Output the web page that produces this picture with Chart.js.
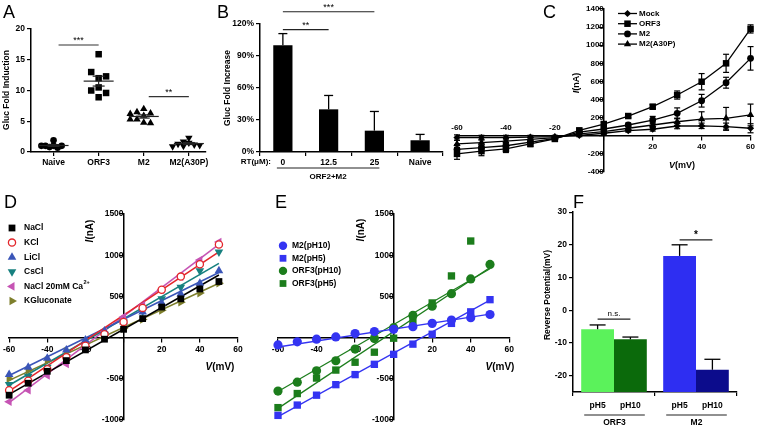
<!DOCTYPE html>
<html><head><meta charset="utf-8">
<script src="https://cdn.jsdelivr.net/npm/chart.js@4/dist/chart.umd.min.js"></script>
<style>
html,body{margin:0;padding:0;background:#fff}
#wrap{position:relative;width:757px;height:427px;overflow:hidden;background:#fff}
canvas{position:absolute}
.pl{position:absolute;font-family:"Liberation Sans",Arial,sans-serif;font-size:18px;line-height:18px;color:#000}
</style></head><body>
<div id="wrap">
<canvas id="cA" width="232" height="200" style="left:0;top:0"></canvas>
<canvas id="cB" width="245" height="200" style="left:215px;top:0"></canvas>
<canvas id="cC" width="317" height="200" style="left:440px;top:0"></canvas>
<canvas id="cD" width="250" height="222" style="left:0;top:205px"></canvas>
<canvas id="cE" width="262" height="222" style="left:255px;top:205px"></canvas>
<canvas id="cF" width="247" height="222" style="left:510px;top:205px"></canvas>
<div class="pl" style="left:3px;top:3px">A</div>
<div class="pl" style="left:217px;top:3px">B</div>
<div class="pl" style="left:543px;top:3px">C</div>
<div class="pl" style="left:4px;top:193px">D</div>
<div class="pl" style="left:275px;top:193px">E</div>
<div class="pl" style="left:573px;top:193px">F</div>
</div>
<script>
// ================= DATA =================
// Panel A : Gluc fold induction (individual wells)
const aCategories = ['Naive', 'ORF3', 'M2', 'M2(A30P)'];
const aNaive = [1.0, 0.8, 1.9, 0.7, 1.0, 1.0, 1.0];
const aOrf3  = [15.9, 12.0, 10.5, 8.9, 13.0, 10.0, 12.3, 9.6];
const aM2    = [5.9, 7.0, 6.5, 5.3, 6.3, 4.8, 4.7, 5.3, 6.2];
const aA30P  = [2.3, 1.7, 1.5, 1.2, 1.0, 1.3, 1.1, 0.9];

// Panel B : Gluc fold increase
const bLabels = ['0', '12.5', '25', 'Naive'];
const bValues = [100, 40, 20, 11];
const bErrors = [11, 13, 18, 5.5];

// Panel C : I-V curves
const cVoltage = [-60, -50, -40, -30, -20, -10, 0, 10, 20, 30, 40, 50, 60];
const cMock  = [-20, -20, -20, -15, -10, 5, 28, 56, 72, 108, 110, 100, 83];
const cOrf3  = [-200, -170, -145, -90, -35, 60, 130, 218, 321, 450, 597, 800, 1180];
const cM2    = [-150, -130, -110, -70, -30, 40, 75, 119, 174, 248, 387, 586, 855];
const cA30P  = [-90, -75, -60, -40, -20, 20, 45, 83, 119, 155, 185, 193, 230];
const cMockErr = [30, 25, 25, 20, 15, 15, 15, 15, 20, 30, 30, 40, 50];
const cOrf3Err = [60, 50, 40, 30, 20, 20, 20, 20, 25, 45, 90, 100, 45];
const cM2Err   = [50, 40, 35, 30, 20, 20, 20, 20, 40, 60, 70, 60, 130];
const cA30PErr = [40, 30, 30, 20, 20, 20, 20, 20, 30, 40, 80, 120, 120];
const cNames = ['Mock', 'ORF3', 'M2', 'M2(A30P)'];

// Panel D : ion substitution
const dVoltage = [-60, -50, -40, -30, -20, -10, 0, 10, 20, 30, 40, 50];
const dNaCl   = [-700, -555, -410, -280, -150, -20, 100, 230, 370, 470, 590, 680];
const dKCl    = [-640, -525, -385, -240, -100, 40, 190, 360, 580, 740, 890, 1130];
const dLiCl   = [-450, -360, -250, -150, -30, 80, 190, 310, 420, 530, 660, 810];
const dCsCl   = [-570, -470, -360, -230, -100, 40, 190, 320, 470, 610, 810, 1040];
const dNaClCa = [-780, -640, -460, -320, -90, 70, 250, 390, 580, 740, 940, 1160];
const dKGluc  = [-500, -400, -280, -170, -70, 30, 110, 220, 330, 430, 540, 660];
const dFitVoltage = [-60, 50];
const dNaClFit   = [-690, 760];
const dKClFit    = [-650, 1040];
const dLiClFit   = [-460, 790];
const dCsClFit   = [-580, 900];
const dNaClCaFit = [-790, 1130];
const dKGlucFit  = [-520, 660];
const dNames = ['NaCl', 'KCl', 'LiCl', 'CsCl', 'NaCl 20mM Ca', 'KGluconate'];

// Panel E : pH dependence
const eVoltage = [-60, -50, -40, -30, -20, -10, 0, 10, 20, 30, 40, 50];
const eM2pH10   = [-90, -52, -20, 7, 48, 72, 100, 132, 172, 212, 240, 280];
const eM2pH5    = [-945, -820, -700, -572, -450, -325, -204, -80, 40, 172, 312, 460];
const eOrf3pH10 = [-650, -542, -404, -282, -140, -12, 120, 268, 380, 532, 712, 888];
const eOrf3pH5  = [-851, -680, -492, -395, -300, -178, -8, 200, 420, 748, 1172, null];
const eFitVoltage = [-60, 50];
const eM2pH10Fit   = [-115, 285];
const eM2pH5Fit    = [-960, 455];
const eOrf3pH10Fit = [-655, 835];
const eOrf3pH5Fit  = [-860, 850];
const eNames = ['M2(pH10)', 'M2(pH5)', 'ORF3(pH10)', 'ORF3(pH5)'];

// Panel F : reversal potential
const fGroups = ['ORF3', 'M2'];
const fConditions = ['pH5', 'pH10'];
const fPH5     = [-5.8, 16.6];
const fPH5Err  = [1.3, 3.4];
const fPH10    = [-8.9, -18.2];
const fPH10Err = [0.7, 3.2];
const fYTicks  = [-20, -10, 0, 10, 20, 30];

// ================= HELPERS =================
const FF = '"Liberation Sans", Arial, Helvetica, sans-serif';
Chart.defaults.font.family = FF;
Chart.defaults.font.size = 8.5;
Chart.defaults.font.weight = 'bold';
Chart.defaults.color = '#000';
Chart.defaults.animation = false;
Chart.defaults.responsive = false;
Chart.defaults.devicePixelRatio = 1;
Chart.defaults.plugins.legend.display = false;
Chart.defaults.plugins.tooltip.enabled = false;

function ax(o) {
  const g = Object.assign({display: true, drawOnChartArea: false, drawTicks: true, tickLength: 4, color: '#000', lineWidth: 1.2}, o.grid || {});
  const t = Object.assign({color: '#000', font: {size: 8.5, weight: 'bold', family: FF}, padding: 2, maxRotation: 0, minRotation: 0, autoSkip: false}, o.ticks || {});
  const b = Object.assign({display: true, color: '#000', width: 1.5}, o.border || {});
  return Object.assign({}, o, {grid: g, ticks: t, border: b});
}
function fstr(o, size) { return (o.italic ? 'italic ' : '') + (o.bold === false ? '' : 'bold ') + size + 'px ' + FF; }
function T(ctx, s, x, y, o) {
  o = o || {};
  ctx.save();
  ctx.font = fstr(o, o.size || 8.5);
  ctx.fillStyle = o.color || '#000';
  ctx.textAlign = o.align || 'center';
  ctx.textBaseline = o.baseline || 'middle';
  ctx.translate(x, y);
  if (o.rot) ctx.rotate(o.rot);
  ctx.fillText(s, 0, 0);
  ctx.restore();
}
function mixed(ctx, parts, cx, cy, rot, size) {
  ctx.save(); ctx.translate(cx, cy); if (rot) ctx.rotate(rot);
  let total = 0;
  parts.forEach(p => { ctx.font = fstr(p, p.size || size); p.w = ctx.measureText(p.t).width; total += p.w; });
  let x = -total / 2;
  ctx.textAlign = 'left'; ctx.textBaseline = 'middle'; ctx.fillStyle = '#000';
  parts.forEach(p => { ctx.font = fstr(p, p.size || size); ctx.fillText(p.t, x, p.dy || 0); x += p.w; });
  ctx.restore();
}
function line(ctx, x1, y1, x2, y2, w, c) {
  ctx.save(); ctx.beginPath(); ctx.moveTo(x1, y1); ctx.lineTo(x2, y2);
  ctx.lineWidth = w || 1.2; ctx.strokeStyle = c || '#000'; ctx.stroke(); ctx.restore();
}
function marker(ctx, style, r, rot, x, y, fill, stroke, bw) {
  ctx.save(); ctx.fillStyle = fill; ctx.strokeStyle = stroke || fill; ctx.lineWidth = bw || 0;
  ctx.beginPath();
  const rad = (rot || 0) * Math.PI / 180;
  if (style === 'circle') ctx.arc(x, y, r, 0, Math.PI * 2);
  else if (style === 'rect') { const s = r * Math.SQRT1_2; ctx.rect(x - s, y - s, 2 * s, 2 * s); }
  else if (style === 'rectRot') { ctx.moveTo(x, y - r); ctx.lineTo(x + r, y); ctx.lineTo(x, y + r); ctx.lineTo(x - r, y); ctx.closePath(); }
  else if (style === 'triangle') {
    let a = rad;
    ctx.moveTo(x + Math.sin(a) * r, y - Math.cos(a) * r);
    a += 2 * Math.PI / 3; ctx.lineTo(x + Math.sin(a) * r, y - Math.cos(a) * r);
    a += 2 * Math.PI / 3; ctx.lineTo(x + Math.sin(a) * r, y - Math.cos(a) * r);
    ctx.closePath();
  }
  ctx.fill(); if (bw) ctx.stroke();
  ctx.restore();
}
function swarm(vals, step, gap) {
  const placed = [];
  return vals.map(v => {
    for (let k = 0; k < 30; k++) {
      const col = k === 0 ? 0 : (k % 2 ? -Math.ceil(k / 2) : Math.ceil(k / 2));
      if (placed.every(p => p.col !== col || Math.abs(p.v - v) >= gap)) { placed.push({col, v}); return col * step; }
    }
    return 0;
  });
}
function pts(xs, ys) { return xs.map((x, i) => ({x, y: ys[i]})).filter(p => p.y !== null); }

// ================= PANEL A =================
(function () {
  const groups = [aNaive, aOrf3, aM2, aA30P];
  const shapes = [{s: 'circle', r: 3.3, rot: 0}, {s: 'rect', r: 4.6, rot: 0}, {s: 'triangle', r: 4.3, rot: 0}, {s: 'triangle', r: 4.3, rot: 180}];
  const steps = [0.09, 0.165, 0.15, 0.12];
  const gaps = [0.6, 1.2, 0.9, 0.7];
  new Chart(document.getElementById('cA'), {
    type: 'scatter',
    data: {datasets: groups.map((vals, gi) => {
      const off = swarm(vals, steps[gi], gaps[gi]);
      return {data: vals.map((v, i) => ({x: gi + 1 + off[i], y: v})), pointStyle: shapes[gi].s, pointRotation: shapes[gi].rot,
        pointRadius: shapes[gi].r, backgroundColor: '#000', borderColor: '#000', borderWidth: 0, clip: false};
    })},
    options: {
      layout: {padding: {left: 0, top: 29, right: 26, bottom: 0}},
      scales: {
        x: ax({type: 'linear', min: 0.5, max: 4.38,
          afterBuildTicks: s => { s.ticks = aCategories.map((c, i) => ({value: i + 1})); },
          ticks: {callback: v => aCategories[Math.round(v) - 1]},
          afterFit: s => { s.height = 48; }}),
        y: ax({min: 0, max: 20, ticks: {stepSize: 5}, afterFit: s => { s.width = 31; }})
      }
    },
    plugins: [{id: 'aov', afterDatasetsDraw(chart) {
      const ctx = chart.ctx, xs = chart.scales.x, ys = chart.scales.y;
      groups.forEach((vals, gi) => {
        const n = vals.length, m = vals.reduce((a, b) => a + b, 0) / n;
        const sd = Math.sqrt(vals.reduce((a, b) => a + (b - m) * (b - m), 0) / (n - 1)), sem = sd / Math.sqrt(n);
        const cx = xs.getPixelForValue(gi + 1);
        line(ctx, cx - 15, ys.getPixelForValue(m), cx + 15, ys.getPixelForValue(m), 1.2, '#222');
        const y1 = ys.getPixelForValue(m - sem), y2 = ys.getPixelForValue(m + sem);
        line(ctx, cx, y1, cx, y2, 1.2, '#222');
        line(ctx, cx - 6, y1, cx + 6, y1, 1.2, '#222');
        line(ctx, cx - 6, y2, cx + 6, y2, 1.2, '#222');
      });
      const sig = [[1, 2, 17.4, '***'], [3, 4, 9.0, '**']];
      sig.forEach(s => {
        const y = ys.getPixelForValue(s[2]);
        line(ctx, xs.getPixelForValue(s[0]) + 5, y, xs.getPixelForValue(s[1]), y, 1.2, '#333');
        T(ctx, s[3], (xs.getPixelForValue(s[0]) + 5 + xs.getPixelForValue(s[1])) / 2, y - 4, {size: 9, bold: false});
      });
      T(ctx, 'Gluc Fold Induction', 7, 90, {rot: -Math.PI / 2, size: 8.5});
    }}]
  });
})();

// ================= PANEL B =================
(function () {
  new Chart(document.getElementById('cB'), {
    type: 'bar',
    data: {labels: bLabels, datasets: [{data: bValues, backgroundColor: '#000', borderWidth: 0, barPercentage: 0.42, categoryPercentage: 1}]},
    options: {
      layout: {padding: {left: 0, top: 24, right: 17, bottom: 0}},
      scales: {
        x: ax({afterFit: s => { s.height = 48; }}),
        y: ax({min: 0, max: 120, ticks: {stepSize: 30, callback: v => v + '%'}, afterFit: s => { s.width = 45; }})
      }
    },
    plugins: [{id: 'bov', afterDatasetsDraw(chart) {
      const ctx = chart.ctx, xs = chart.scales.x, ys = chart.scales.y;
      const meta = chart.getDatasetMeta(0);
      meta.data.forEach((bar, i) => {
        const yt = ys.getPixelForValue(bValues[i]), ye = ys.getPixelForValue(bValues[i] + bErrors[i]);
        line(ctx, bar.x, yt, bar.x, ye, 1.3);
        line(ctx, bar.x - 4.5, ye, bar.x + 4.5, ye, 1.3);
      });
      const sig = [[0, 2, 131.5, '***'], [0, 1, 114.7, '**']];
      sig.forEach(s => {
        const y = ys.getPixelForValue(s[2]);
        const x1 = xs.getPixelForValue(s[0]), x2 = xs.getPixelForValue(s[1]);
        line(ctx, x1, y, x2, y, 1.2, '#222');
        T(ctx, s[3], (x1 + x2) / 2, y - 4.5, {size: 9, bold: false});
      });
      const by = chart.chartArea.bottom;
      T(ctx, 'RT(\u03BCM):', 56, by + 10, {align: 'right', size: 8});
      const x0 = xs.getPixelForValue(0) - 6, x2 = xs.getPixelForValue(2) + 5;
      line(ctx, x0, by + 16, x2, by + 16, 1.2, '#222');
      T(ctx, 'ORF2+M2', (x0 + x2) / 2, by + 25, {size: 8});
      T(ctx, 'Gluc Fold Increase', 13, 88, {rot: -Math.PI / 2, size: 8.5});
    }}]
  });
})();

// ================= PANEL C =================
(function () {
  const series = [cMock, cOrf3, cM2, cA30P];
  const errs = [cMockErr, cOrf3Err, cM2Err, cA30PErr];
  const shapes = [{s: 'rectRot', r: 3.6}, {s: 'rect', r: 4.6}, {s: 'circle', r: 3.4}, {s: 'triangle', r: 4.2}];
  new Chart(document.getElementById('cC'), {
    type: 'scatter',
    data: {datasets: series.map((vals, si) => ({data: pts(cVoltage, vals), showLine: true, borderColor: '#000', borderWidth: 1.3,
      backgroundColor: '#000', pointStyle: shapes[si].s, pointRadius: shapes[si].r, pointBorderWidth: 0, clip: false}))},
    options: {
      layout: {padding: {left: 17, top: 9, right: 6, bottom: 28}},
      scales: {
        x: ax({type: 'linear', min: -60, max: 60, position: {y: 0}, ticks: {stepSize: 20, font: {size: 8, weight: 'bold', family: FF}, callback: v => v > 0 ? v : ''}}),
        y: ax({min: -400, max: 1400, position: {x: 0}, ticks: {stepSize: 200, font: {size: 8, weight: 'bold', family: FF}, callback: v => v === 0 ? '' : v}})
      }
    },
    plugins: [{id: 'cov', beforeDatasetsDraw(chart) {
      const ctx = chart.ctx, xs = chart.scales.x, ys = chart.scales.y;
      series.forEach((vals, si) => {
        vals.forEach((v, i) => {
          const x = xs.getPixelForValue(cVoltage[i]);
          const y1 = ys.getPixelForValue(v - errs[si][i]), y2 = ys.getPixelForValue(v + errs[si][i]);
          line(ctx, x, y1, x, y2, 1.2); line(ctx, x - 3, y1, x + 3, y1, 1.2); line(ctx, x - 3, y2, x + 3, y2, 1.2);
        });
      });
    }, afterDraw(chart) {
      const ctx = chart.ctx, xs = chart.scales.x, ys = chart.scales.y;
      const y0 = ys.getPixelForValue(0);
      [-60, -40, -20].forEach(v => T(ctx, String(v), xs.getPixelForValue(v), y0 - 8, {size: 8}));
      mixed(ctx, [{t: 'V', italic: true}, {t: '(mV)'}], xs.getPixelForValue(32), ys.getPixelForValue(-330), 0, 9);
      mixed(ctx, [{t: 'I', italic: true}, {t: '(nA)'}], 137, 83, -Math.PI / 2, 9);
      cNames.forEach((nm, i) => {
        const y = 13.5 + i * 10.2;
        line(ctx, 178, y, 197, y, 1.3);
        marker(ctx, shapes[i].s, shapes[i].r, 0, 187.5, y, '#000');
        T(ctx, nm, 199, y, {align: 'left', size: 8});
      });
    }}]
  });
})();

// ================= PANEL D =================
(function () {
  const series = [dNaCl, dKCl, dLiCl, dCsCl, dNaClCa, dKGluc];
  const fits = [dNaClFit, dKClFit, dLiClFit, dCsClFit, dNaClCaFit, dKGlucFit];
  const colors = ['#000000', '#e3262b', '#3a55b8', '#17807f', '#c654b4', '#7e7f2c'];
  const shapes = [{s: 'rect', r: 4.8, rot: 0, fill: '#000'}, {s: 'circle', r: 3.6, rot: 0, fill: '#fff', bw: 1.3},
    {s: 'triangle', r: 5, rot: 0}, {s: 'triangle', r: 5, rot: 180}, {s: 'triangle', r: 5, rot: -90}, {s: 'triangle', r: 5, rot: 90}];
  const ds = [];
  series.forEach((vals, si) => ds.push({data: pts(dVoltage, vals), showLine: false, pointStyle: shapes[si].s, pointRotation: shapes[si].rot,
    pointRadius: shapes[si].r, backgroundColor: shapes[si].fill || colors[si], borderColor: colors[si], pointBorderWidth: shapes[si].bw || 0, order: 0, clip: false}));
  fits.forEach((f, si) => ds.push({data: pts(dFitVoltage, f), showLine: true, pointRadius: 0, borderColor: colors[si], borderWidth: 1.6, order: 1, clip: false}));
  new Chart(document.getElementById('cD'), {
    type: 'scatter',
    data: {datasets: ds},
    options: {
      layout: {padding: {left: 8, top: 9, right: 12, bottom: 5}},
      scales: {
        x: ax({type: 'linear', min: -60, max: 60, position: {y: 0}, ticks: {stepSize: 20, padding: 3, callback: v => v === 0 ? '' : v}}),
        y: ax({min: -1000, max: 1500, position: {x: 0}, ticks: {stepSize: 500, callback: v => v === 0 ? '' : v}})
      }
    },
    plugins: [{id: 'dov', afterDraw(chart) {
      const ctx = chart.ctx;
      dNames.forEach((nm, i) => {
        const y = 23 + i * 14.6;
        marker(ctx, shapes[i].s, shapes[i].r, shapes[i].rot, 12, y, shapes[i].fill || colors[i], colors[i], shapes[i].bw || 0);
        T(ctx, nm, 24, y, {align: 'left'});
        if (i === 4) {
          ctx.save(); ctx.font = fstr({}, 8.5); const w = ctx.measureText(nm).width; ctx.restore();
          T(ctx, '2+', 24 + w + 0.5, y - 3.5, {align: 'left', size: 5.5});
        }
      });
      mixed(ctx, [{t: 'V', italic: true}, {t: '(mV)'}], 220, 162, 0, 10);
      mixed(ctx, [{t: 'I', italic: true}, {t: '(nA)'}], 90, 26, -Math.PI / 2, 10);
    }}]
  });
})();

// ================= PANEL E =================
(function () {
  const series = [eM2pH10, eM2pH5, eOrf3pH10, eOrf3pH5];
  const fits = [eM2pH10Fit, eM2pH5Fit, eOrf3pH10Fit, eOrf3pH5Fit];
  const colors = ['#3434f2', '#3434f2', '#1c7d1c', '#1c7d1c'];
  const shapes = [{s: 'circle', r: 4.6}, {s: 'rect', r: 5.2}, {s: 'circle', r: 4.6}, {s: 'rect', r: 5.2}];
  const ds = [];
  series.forEach((vals, si) => ds.push({data: pts(eVoltage, vals), showLine: false, pointStyle: shapes[si].s, pointRadius: shapes[si].r,
    backgroundColor: colors[si], borderColor: colors[si], pointBorderWidth: 0, order: 0, clip: false}));
  fits.forEach((f, si) => ds.push({data: pts(eFitVoltage, f), showLine: true, pointRadius: 0, borderColor: colors[si], borderWidth: 1.3, order: 1, clip: false}));
  new Chart(document.getElementById('cE'), {
    type: 'scatter',
    data: {datasets: ds},
    options: {
      layout: {padding: {left: 23, top: 9, right: 7, bottom: 5}},
      scales: {
        x: ax({type: 'linear', min: -60, max: 60, position: {y: 0}, ticks: {stepSize: 20, padding: 3, callback: v => v === 0 ? '' : v}}),
        y: ax({min: -1000, max: 1500, position: {x: 0}, ticks: {stepSize: 500, callback: v => v === 0 ? '' : v}})
      }
    },
    plugins: [{id: 'eov', afterDraw(chart) {
      const ctx = chart.ctx;
      eNames.forEach((nm, i) => {
        const y = 40.7 + i * 12.6;
        marker(ctx, shapes[i].s, shapes[i].s === 'circle' ? 4.2 : 4.8, 0, 28, y, colors[i]);
        T(ctx, nm, 37, y, {align: 'left', size: 8.5});
      });
      mixed(ctx, [{t: 'V', italic: true}, {t: '(mV)'}], 245, 162, 0, 10);
      mixed(ctx, [{t: 'I', italic: true}, {t: '(nA)'}], 106, 25, -Math.PI / 2, 10);
    }}]
  });
})();

// ================= PANEL F =================
(function () {
  const yMin = -25;
  new Chart(document.getElementById('cF'), {
    type: 'bar',
    data: {labels: fGroups, datasets: [
      {data: fPH5.map(v => [yMin, v]), backgroundColor: ['#5bf25b', '#2e2ef2'], borderWidth: 0, categoryPercentage: 0.8, barPercentage: 1},
      {data: fPH10.map(v => [yMin, v]), backgroundColor: ['#0b6a0b', '#0c0c8c'], borderWidth: 0, categoryPercentage: 0.8, barPercentage: 1}
    ]},
    options: {
      layout: {padding: {left: 0, top: 7, right: 20, bottom: 0}},
      scales: {
        x: ax({ticks: {display: false}, afterFit: s => { s.height = 35; }}),
        y: ax({min: yMin, max: 30, afterBuildTicks: s => { s.ticks = fYTicks.map(v => ({value: v})); }, afterFit: s => { s.width = 63; }})
      }
    },
    plugins: [{id: 'fov', afterDatasetsDraw(chart) {
      const ctx = chart.ctx, ys = chart.scales.y;
      const vals = [fPH5, fPH10], errs = [fPH5Err, fPH10Err];
      const bars = [chart.getDatasetMeta(0).data, chart.getDatasetMeta(1).data];
      [0, 1].forEach(d => bars[d].forEach((b, g) => {
        const yt = ys.getPixelForValue(vals[d][g]), ye = ys.getPixelForValue(vals[d][g] + errs[d][g]);
        line(ctx, b.x, yt, b.x, ye, 1.3); line(ctx, b.x - 8, ye, b.x + 8, ye, 1.3);
      }));
      const by = chart.chartArea.bottom;
      fGroups.forEach((gname, g) => {
        const b0 = bars[0][g], b1 = bars[1][g];
        T(ctx, fConditions[0], b0.x, by + 14, {size: 8.5});
        T(ctx, fConditions[1], b1.x, by + 14, {size: 8.5});
        const xl = b0.x - b0.width / 2 + 3, xr = b1.x + b1.width / 2 - 2;
        line(ctx, xl, by + 23, xr, by + 23, 1.2, '#222');
        T(ctx, gname, (xl + xr) / 2, by + 31, {size: 8.5});
      });
      const sig = [[0, -2.7, 'n.s.'], [1, 21.5, '*']];
      sig.forEach(s => {
        const y = ys.getPixelForValue(s[1]);
        const x1 = bars[0][s[0]].x, x2 = bars[1][s[0]].x;
        line(ctx, x1, y, x2, y, 1.2, '#222');
        T(ctx, s[2], (x1 + x2) / 2, y - 5, {size: s[2] === '*' ? 10 : 8, bold: s[2] === '*'});
      });
      T(ctx, 'Reverse Potential(mV)', 38, 90, {rot: -Math.PI / 2, size: 8.5});
    }}]
  });
})();
</script>
</body></html>
